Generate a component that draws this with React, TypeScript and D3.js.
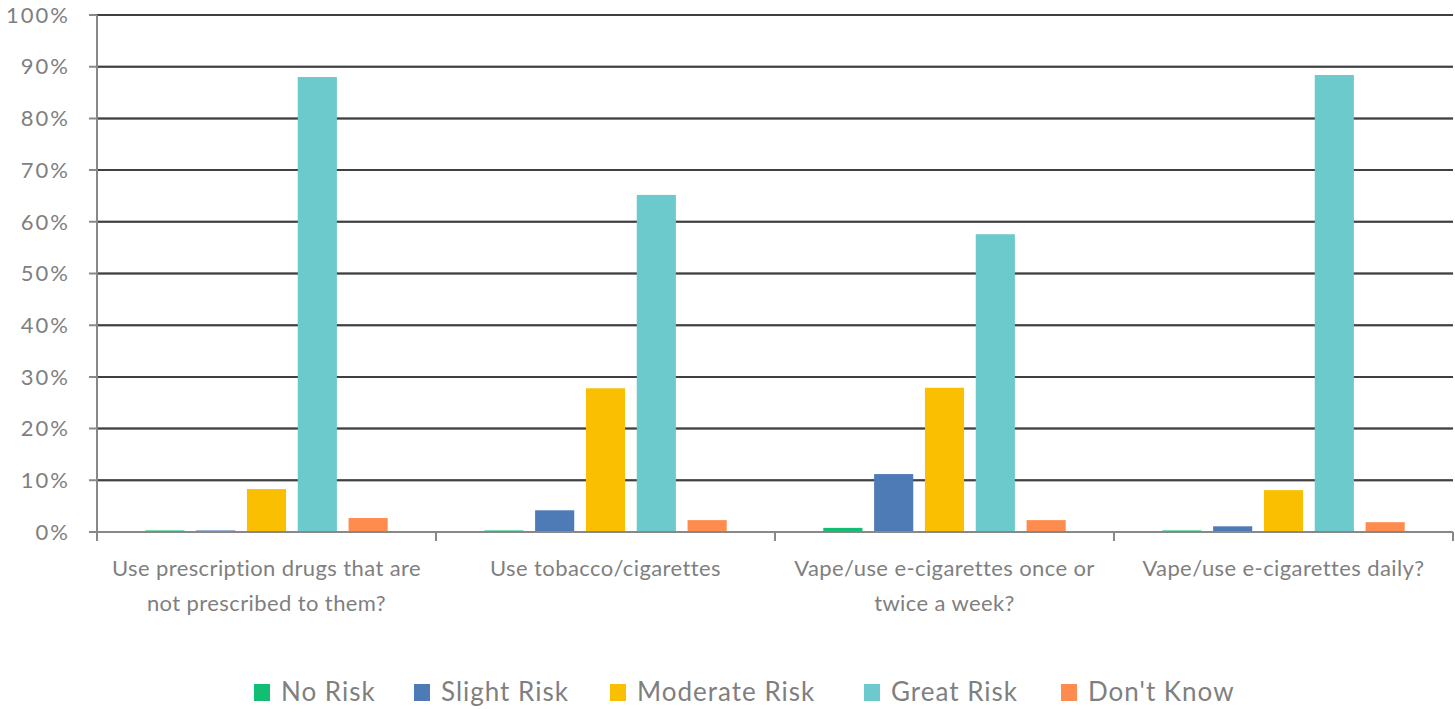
import React from "react";
import * as d3 from "d3";

const categories = [
  ["Use prescription drugs that are", "not prescribed to them?"],
  ["Use tobacco/cigarettes"],
  ["Vape/use e-cigarettes once or", "twice a week?"],
  ["Vape/use e-cigarettes daily?"],
];
const seriesNames = ["No Risk", "Slight Risk", "Moderate Risk", "Great Risk", "Don't Know"];
const seriesColors = ["#12BE72", "#4E7AB5", "#F9BF00", "#6CC9CC", "#FF8C4F"];
const noRisk = [0.3, 0.3, 0.8, 0.3];
const slightRisk = [0.3, 4.2, 11.2, 1.1];
const moderateRisk = [8.3, 27.8, 27.9, 8.1];
const greatRisk = [88.0, 65.2, 57.6, 88.4];
const dontKnow = [2.7, 2.3, 2.3, 1.9];
const seriesValues = [noRisk, slightRisk, moderateRisk, greatRisk, dontKnow];
const yTicks = [0, 10, 20, 30, 40, 50, 60, 70, 80, 90, 100];

export default function App() {
  const W = 1455, H = 709;
  const left = 97, right = 1453, top = 15, bottom = 532;
  const font = "Lato, 'Open Sans', sans-serif";
  const x0 = d3.scaleBand().domain(categories.map((_, i) => String(i))).range([left, right]);
  const x1 = d3.scaleBand().domain(seriesNames).range([0, x0.bandwidth()]).paddingInner(0.23).paddingOuter(0.95);
  const y = d3.scaleLinear().domain([0, 100]).range([bottom, top]);
  const legendX = [254, 414, 610, 864, 1061];
  return (
    <svg width={W} height={H} style={{ position: "absolute", left: 0, top: 0, background: "#fff" }}>
      {yTicks.map((t) => (
        <g key={t}>
          <line x1={left - 8} x2={t === 0 ? left : right} y1={y(t)} y2={y(t)} stroke="#888" strokeWidth={2} />
          {t > 0 && <line x1={left} x2={right} y1={y(t)} y2={y(t)} stroke="#404040" strokeWidth={2} />}
          <text x={70} y={y(t)} dy="0.35em" textAnchor="end" fontFamily={font} fontSize={22} letterSpacing={2} fill="#7f7f7f">{t}%</text>
        </g>
      ))}
      {categories.map((c, i) => (
        <g key={i}>
          {seriesNames.map((s, j) => {
            const v = seriesValues[j][i];
            return (
              <rect key={s} x={x0(String(i))! + x1(s)!} width={x1.bandwidth()} y={y(v)} height={y(0) - y(v)} fill={seriesColors[j]} />
            );
          })}
          {c.map((line, k) => (
            <text key={k} x={x0(String(i))! + x0.bandwidth() / 2} y={576 + k * 35} textAnchor="middle" fontFamily={font} fontSize={22} letterSpacing={0.4} fill="#7f7f7f">{line}</text>
          ))}
          <line x1={x0(String(i))! + x0.bandwidth()} x2={x0(String(i))! + x0.bandwidth()} y1={bottom} y2={bottom + 9} stroke="#888" strokeWidth={2} />
        </g>
      ))}
      <line x1={left} x2={right} y1={bottom} y2={bottom} stroke="#888" strokeWidth={2} />
      <line x1={left} x2={left} y1={top} y2={bottom + 9} stroke="#888" strokeWidth={2} />
      {seriesNames.map((s, j) => (
        <g key={s}>
          <rect x={legendX[j]} y={684} width={16} height={17} fill={seriesColors[j]} />
          <text x={legendX[j] + 27} y={692} dy="0.35em" fontFamily={font} fontSize={26} letterSpacing={1} fill="#7f7f7f">{s}</text>
        </g>
      ))}
    </svg>
  );
}
